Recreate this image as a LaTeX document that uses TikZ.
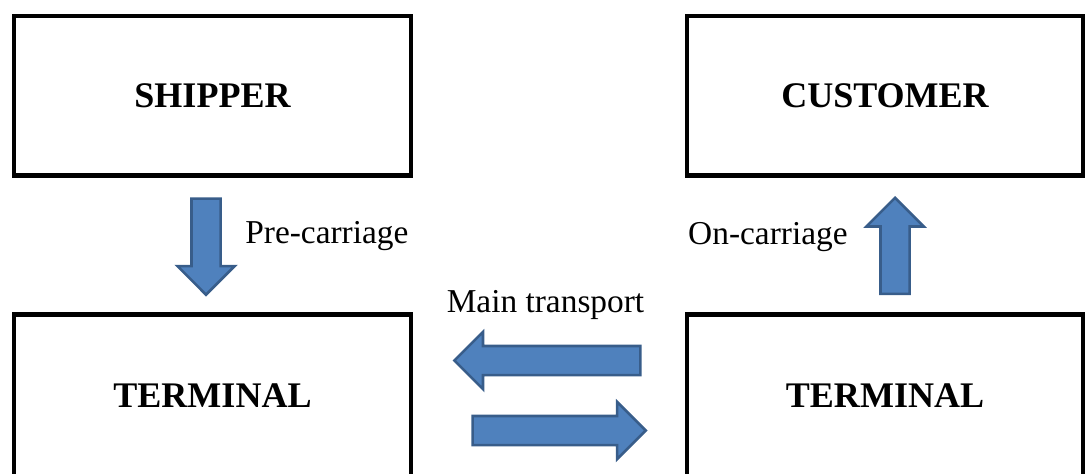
\documentclass[tikz,border=0pt]{standalone}
\usepackage{fontspec}
\setmainfont{Liberation Serif}
\usetikzlibrary{shapes.arrows}

\definecolor{arrowfill}{HTML}{4F81BD}
\definecolor{arrowline}{HTML}{385D8A}

\begin{document}
\begin{tikzpicture}

% --- Define reusable styles and key coordinates ---
\tikzset{
    party/.style={
        draw, line width=2.5pt, minimum width=7.93cm, minimum height=3.19cm,
        font=\fontsize{20.5}{24}\selectfont\bfseries
    },
    flow/.style={
        single arrow, draw=arrowline, fill=arrowfill, line width=1.5pt,
        inner xsep=0pt, inner ysep=0.265cm, single arrow head extend=0.28cm,
        anchor=tip
    },
    caption/.style={inner sep=0pt, font=\fontsize{19}{23}\selectfont}
}
% Vertical levels of the upper and lower rows of boxes
\def\toplevel{7.545}
\def\bottomlevel{1.55}

\useasboundingbox (0,0) rectangle (21.74,9.46);

% 1. Draw the shipper and the customer
\node[party] (shipper) at (4.25,\toplevel) {SHIPPER};
\node[party] (customer) at (17.70,\toplevel) {CUSTOMER};

% 2. Draw the two terminals (they run off the bottom edge)
\node[party, minimum height=3.24cm] (terminal_a) at (4.25,\bottomlevel) {TERMINAL};
\node[party, minimum height=3.24cm] (terminal_b) at (17.70,\bottomlevel) {TERMINAL};

% 3. Pre-carriage arrow going down, on-carriage arrow going up (placed by their tips)
\node[flow, minimum height=1.92cm, rotate=-90] (pre) at (4.12,3.53) {};
\node[flow, minimum height=1.92cm, rotate=90] (on) at (17.9,5.54) {};

% 4. Main transport arrows between the terminals
\node[flow, minimum height=3.72cm, rotate=180] (back) at (9.05,2.25) {};
\node[flow, minimum height=3.46cm] (main) at (12.95,0.85) {};

% 5. Labels
\node[caption, anchor=base west] (pre_label) at (4.9,4.6) {Pre-carriage};
\node[caption, anchor=base east] (on_label) at (16.96,4.58) {On-carriage};
\node[caption, anchor=base] (main_label) at (10.91,3.22) {Main transport};

\end{tikzpicture}
\end{document}
